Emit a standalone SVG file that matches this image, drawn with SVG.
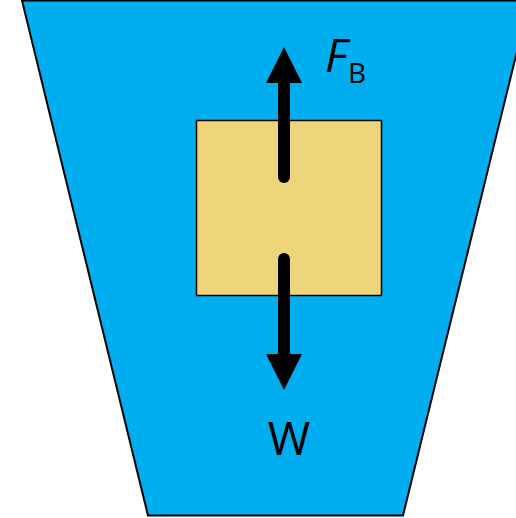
<svg xmlns="http://www.w3.org/2000/svg" width="516" height="518" viewBox="0 0 516 518">
<style>
.lbl{font-family:"Open Sans","Noto Sans",sans-serif;fill:#000}
.shaft{stroke:#000;stroke-width:12;stroke-linecap:round;fill:none}
</style>
<rect width="516" height="518" fill="#fff"/>
<g id="container">
<polygon points="22,0.5 529.5,0.5 403,515.5 148,515.5" fill="#00AEEF" stroke="#000" stroke-width="2"/>
</g>
<g id="block">
<rect x="196.5" y="120.5" width="185" height="175" fill="#EFD57A" stroke="#000" stroke-width="1.5"/>
</g>
<g id="connectors">
<line class="shaft" x1="284" y1="177" x2="284" y2="80"/>
<polygon points="284,47 302,83 266,83" fill="#000"/>
<line class="shaft" x1="284" y1="259" x2="284" y2="357"/>
<polygon points="284,390 302,354 266,354" fill="#000"/>
</g>
<g id="label-fb">
<text class="lbl" x="325" y="72" font-size="46" font-style="italic">F</text>
<text class="lbl" x="348" y="83" font-size="28">B</text>
</g>
<g id="label-w">
<text class="lbl" x="289" y="455" font-size="46" text-anchor="middle">W</text>
</g>
</svg>
